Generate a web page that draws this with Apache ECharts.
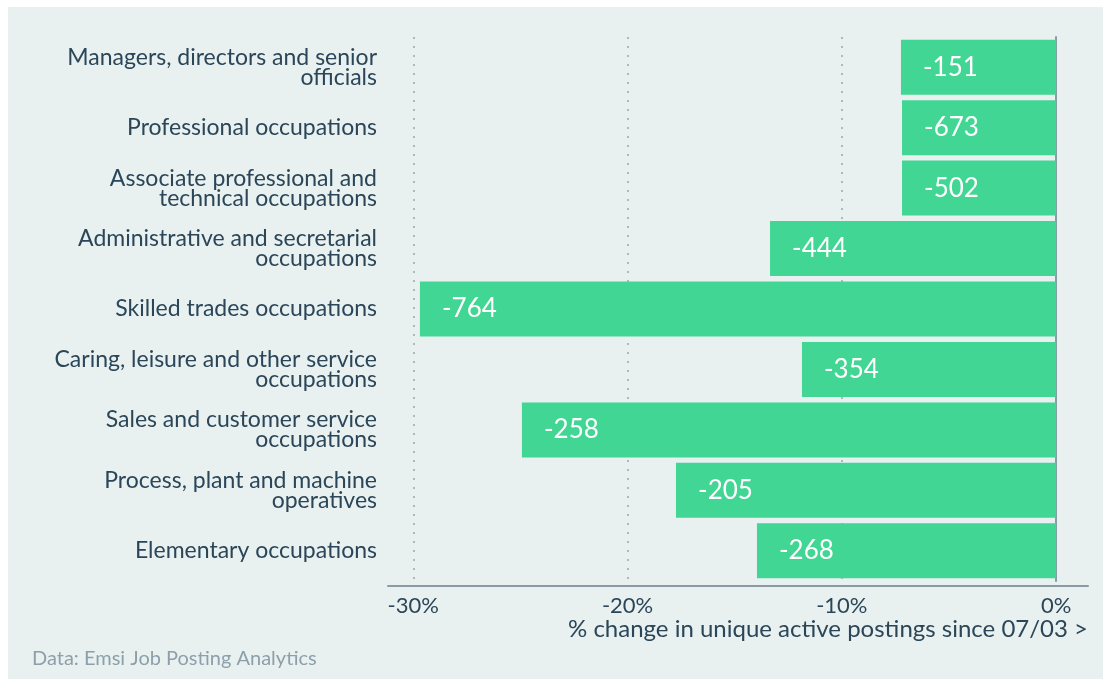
<!DOCTYPE html>
<html>
<head>
<meta charset="utf-8">
<script src="https://cdn.jsdelivr.net/npm/echarts@6/dist/echarts.min.js"></script>
<style>
    html, body {
        margin: 0;
        padding: 0;
        background: #ffffff;
    }
    #myChart {
        position: absolute;
        left: 8px;
        top: 7px;
        width: 1095px;
        height: 672px;
    }
</style>
</head>
<body>
<div id="myChart"></div>
<script>
    // occupations, top to bottom
    const categories = [
        'Managers, directors and senior\nofficials',
        'Professional occupations',
        'Associate professional and\ntechnical occupations',
        'Administrative and secretarial\noccupations',
        'Skilled trades occupations',
        'Caring, leisure and other service\noccupations',
        'Sales and customer service\noccupations',
        'Process, plant and machine\noperatives',
        'Elementary occupations'
    ];
    // % change in unique active postings (bar length)
    const pctChange = [-7.24, -7.19, -7.19, -13.35, -29.69, -11.86, -24.93, -17.74, -13.96];
    // change in number of postings (bar label)
    const postingChange = [-151, -673, -502, -444, -764, -354, -258, -205, -268];
    const tickValues = [-30, -20, -10, 0];

    const textColor = '#2a4658';
    const fontFamily = 'Lato, sans-serif';

    const myChart = echarts.init(document.getElementById('myChart'));
    myChart.setOption({
        backgroundColor: '#e9f1f0',
        textStyle: { fontFamily: fontFamily },
        title: {
            text: 'Data: Emsi Job Posting Analytics',
            left: 19,
            top: 637,
            textStyle: {
                color: '#8c9faa',
                fontSize: 20,
                fontWeight: 'normal',
                fontFamily: fontFamily
            }
        },
        grid: {
            left: 380,
            right: 15,
            top: 30,
            bottom: 98,
            containLabel: false,
            outerBoundsMode: 'none'
        },
        xAxis: {
            type: 'value',
            min: -31.18,
            max: 1.49,
            offset: 5,
            name: '% change in unique active postings since 07/03 >',
            nameLocation: 'end',
            nameGap: 0,
            nameTextStyle: {
                color: textColor,
                fontSize: 24,
                align: 'right',
                verticalAlign: 'top',
                padding: [31, 0, 0, 0]
            },
            axisLine: { show: true, lineStyle: { color: '#8a9ba6', width: 2 } },
            axisTick: { show: false, customValues: tickValues },
            axisLabel: {
                customValues: tickValues,
                color: textColor,
                fontSize: 22,
                margin: 9,
                formatter: function (v) { return v + '%'; }
            },
            splitLine: {
                show: true,
                lineStyle: { color: '#9aa6ad', type: [2, 7], width: 1.5 }
            }
        },
        yAxis: {
            type: 'category',
            inverse: true,
            data: categories,
            axisLine: { show: true, lineStyle: { color: '#8a9ba6', width: 2 } },
            axisTick: { show: false },
            axisLabel: {
                color: textColor,
                fontSize: 23,
                lineHeight: 20,
                margin: 11,
                align: 'right'
            },
            splitLine: { show: false }
        },
        series: [{
            type: 'bar',
            data: pctChange,
            barCategoryGap: '9%',
            itemStyle: { color: '#41d693' },
            label: {
                show: true,
                position: 'insideLeft',
                distance: 22,
                color: '#ffffff',
                fontSize: 26,
                formatter: function (p) { return postingChange[p.dataIndex]; }
            }
        }]
    });
</script>
</body>
</html>
